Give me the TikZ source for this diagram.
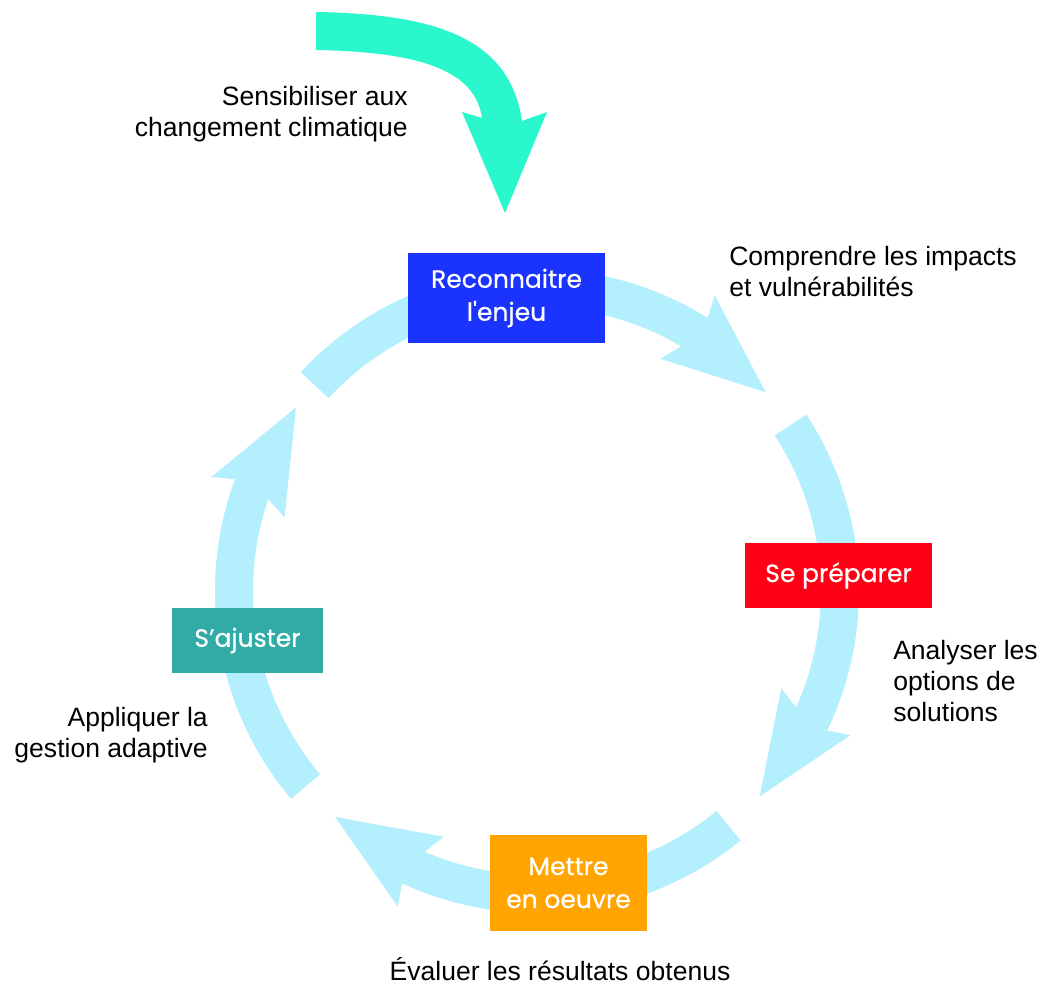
\documentclass[tikz,border=0pt]{standalone}
\usepackage{fontspec}
\setmainfont{Liberation Sans}
\newfontfamily\boxfont[FakeBold=0.6]{Poppins}
\definecolor{ringc}{HTML}{B3EFFC}
\definecolor{greenc}{HTML}{2AF7CC}
\definecolor{bluec}{HTML}{1B33FF}
\definecolor{redc}{HTML}{FF0016}
\definecolor{orangec}{HTML}{FFA400}
\definecolor{tealc}{HTML}{31ABA5}
% #1 start angle, #2 tip angle (arrow runs clockwise)
\newcommand\cyclearrow[2]{%
  \fill[ringc] (#1:322) arc[start angle=#1, end angle={#2+17}, radius=322]
    -- ({#2+18}:345) -- (#2:303) -- ({#2+21}:263) -- ({#2+18.5}:284)
    arc[start angle={#2+18.5}, end angle=#1, radius=284] -- cycle;}
\begin{document}
\begin{tikzpicture}[x=0.75pt,y=0.75pt,
  notetext/.style={font=\fontsize{19.9pt}{23.25pt}\selectfont, inner sep=0pt, text=black},
  stage/.style={font=\boxfont\fontsize{18.75pt}{24.75pt}\selectfont, text=white, inner sep=0pt, align=center, draw=none}]
\useasboundingbox (0,0) rectangle (1039,-984);
\fill[white] (0,0) rectangle (1039,-984);
% ring arrows
\begin{scope}[shift={(537,-591)}]
  \cyclearrow{137.2}{41}
  \cyclearrow{33.2}{-42.7}
  \cyclearrow{-50.8}{-131.8}
  \cyclearrow{220.2}{142.7}
\end{scope}
% green incoming arrow
\fill[greenc] (316,-12) .. controls (440,-14) and (510,-40) .. (522,-121)
  -- (547,-112) -- (505,-213) -- (462,-112) -- (482,-118)
  .. controls (475,-70) and (420,-52) .. (316,-50) -- cycle;
% stage boxes
\node[stage, fill=bluec, minimum width=197*0.75pt, minimum height=90*0.75pt] (rec) at (506.5,-298) {Reconnaitre\\l\textquotesingle enjeu};
\node[stage, fill=redc, minimum width=187*0.75pt, minimum height=65*0.75pt] (prep) at (838.5,-575.5) {Se préparer};
\node[stage, fill=orangec, minimum width=157*0.75pt, minimum height=96*0.75pt] (mettre) at (568.5,-883) {Mettre\\en oeuvre};
\node[stage, fill=tealc, minimum width=151*0.75pt, minimum height=65*0.75pt] (ajust) at (247.5,-640.5) {S’ajuster};
% notes
\node[notetext, anchor=east, align=right] (sens) at (408,-114) {Sensibiliser aux\\changement climatique};
\node[notetext, anchor=west, align=left] (comp) at (729,-272) {Comprendre les impacts\\et vulnérabilités};
\node[notetext, anchor=west, align=left] (anal) at (893,-681) {Analyser les\\options de\\solutions};
\node[notetext, anchor=east, align=right] (appl) at (208,-735) {Appliquer la\\gestion adaptive};
\node[notetext, anchor=base] (eval) at (560,-980) {Évaluer les résultats obtenus};
\end{tikzpicture}
\end{document}
